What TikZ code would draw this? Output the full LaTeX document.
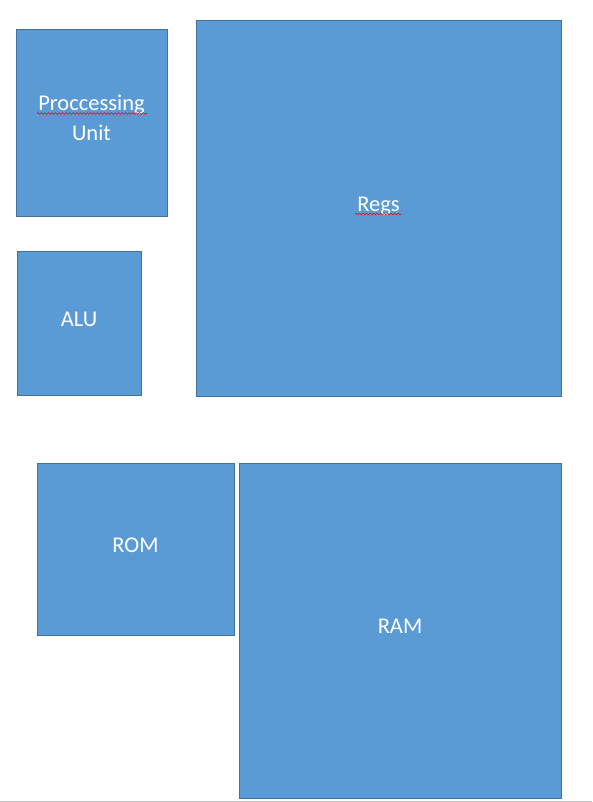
\documentclass[tikz,border=0pt]{standalone}
\usepackage{fontspec}
\setmainfont{Carlito}
\usepackage{tikz}
\usetikzlibrary{decorations.pathmorphing}
\definecolor{blkfill}{HTML}{5B9BD5}
\definecolor{blkedge}{HTML}{41719C}
\tikzset{
  blockbox/.style={draw=blkedge, fill=blkfill, line width=0.9pt, inner sep=0pt,
    text=white, align=center, font=\fontsize{22.5}{30}\selectfont},
  onerow/.style={text depth=8pt},
  spellmark/.style={red, line width=0.6pt,
    decorate, decoration={snake, amplitude=0.9pt, segment length=3.5pt}}
}

\begin{document}
\begin{tikzpicture}[x=1pt, y=-1pt]
        \useasboundingbox (0,0) rectangle (592,802);
        \node[blockbox, minimum width=151pt, minimum height=187pt] (pu) at (91.5,122.5) {Proccessing\\Unit\rule[-9pt]{0pt}{9pt}};
        \node[blockbox, onerow, minimum width=124pt, minimum height=144pt] (alu) at (79,323) {ALU};
        \node[blockbox, onerow, minimum width=365pt, minimum height=376pt] (regs) at (378.5,208) {Regs};
        \node[blockbox, onerow, minimum width=197pt, minimum height=172pt] (rom) at (135.5,549) {ROM};
        \node[blockbox, onerow, minimum width=322pt, minimum height=335pt] (ram) at (400,630.5) {RAM};
        \draw[spellmark] (37,113.5) -- (147,113.5);
        \draw[spellmark] (355,214) -- (401,214);
        \draw[black!25, line width=1pt] (0,801) -- (592,801);
    \end{tikzpicture}
\end{document}
